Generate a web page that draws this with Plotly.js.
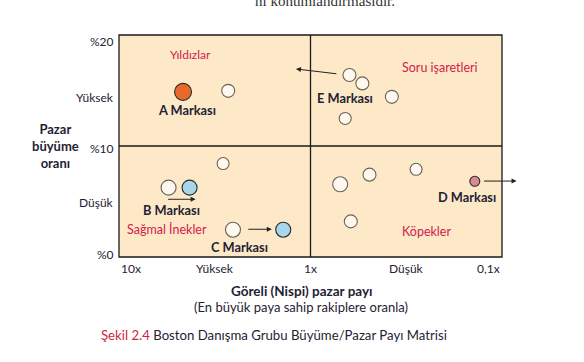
<!DOCTYPE html>
<html>
<head>
<meta charset="utf-8">
<script src="https://cdn.plot.ly/plotly-3.0.1.min.js"></script>
<style>html,body{margin:0;padding:0;background:#fff;}#chart{width:584px;height:362px;}</style>
</head>
<body>
<div id="chart"></div>
<script>
// Relative market share (x, log scale, 10x -> 0.1x) and market growth rate (y, %)
const whiteX = [2.69, 0.626, 0.536, 0.376, 0.659, 2.86, 5.51, 2.54, 0.70, 0.492, 0.281, 0.616];
const whiteY = [14.97, 16.39, 15.64, 14.43, 12.48, 8.42, 6.25, 2.46, 6.55, 7.42, 7.90, 3.21];
const whiteSize = [13, 13, 13, 13, 12, 12, 15, 15, 15, 13, 12, 13];
const brandAX = [4.63], brandAY = [14.88];
const blueX = [4.28, 1.388], blueY = [6.25, 2.46];
const brandDX = [0.1387], brandDY = [6.82];
const xTickVals = [10, 3.162, 1, 0.3162, 0.1];
const xTickText = ['10x', 'Yüksek', '1x', 'Düşük', '0,1x'];
const yTickVals = [20, 14.3, 10, 4.9, 0];
const yTickText = ['%20', 'Yüksek', '%10', 'Düşük', '%0'];

const FONT = 'Lato, "Open Sans", sans-serif';
const RED = '#d4204a';
const DARK = '#1f2233';
const EDGE = '#2a2a2a';

const traces = [
  {x: whiteX, y: whiteY, mode: 'markers', type: 'scatter', hoverinfo: 'skip',
   marker: {size: whiteSize, color: '#ffffff', line: {color: EDGE, width: 1.1}}},
  {x: brandAX, y: brandAY, mode: 'markers', type: 'scatter', hoverinfo: 'skip',
   marker: {size: 17, color: '#e8692a', line: {color: EDGE, width: 1.1}}},
  {x: blueX, y: blueY, mode: 'markers', type: 'scatter', hoverinfo: 'skip',
   marker: {size: 15, color: '#a9d6ea', line: {color: EDGE, width: 1.1}}},
  {x: brandDX, y: brandDY, mode: 'markers', type: 'scatter', hoverinfo: 'skip',
   marker: {size: 10, color: '#d98b93', line: {color: EDGE, width: 1.1}}}
];

const ann = [];
function label(text, x, y, color, bold, size) {
  ann.push({xref: 'paper', yref: 'paper', x: x, y: y, text: bold ? '<b>' + text + '</b>' : text,
    showarrow: false, xanchor: 'center', yanchor: 'middle',
    font: {family: FONT, size: size || 12, color: color}});
}
label('Yıldızlar', 0.187, 0.910, RED, false);
label('Soru işaretleri', 0.838, 0.853, RED, false, 12.5);
label('Sağmal İnekler', 0.126, 0.122, RED, false, 12.5);
label('Köpekler', 0.803, 0.117, RED, false, 12.5);
label('A Markası', 0.178, 0.662, DARK, true, 12.8);
label('E Markası', 0.590, 0.715, DARK, true, 12.8);
label('B Markası', 0.138, 0.212, DARK, true, 12.8);
label('C Markası', 0.314, 0.046, DARK, true, 12.8);
label('D Markası', 0.909, 0.272, DARK, true, 12.8);

function arrow(x, y, ax, ay) {
  ann.push({xref: 'paper', yref: 'paper', x: x, y: y, ax: ax, ay: ay, text: '',
    showarrow: true, arrowhead: 2, arrowsize: 1, arrowwidth: 1, arrowcolor: '#222'});
}
arrow(0.462, 0.847, 42, 5);
arrow(0.200, 0.260, -29, 0);
arrow(0.399, 0.125, -25, 0);
arrow(1.038, 0.342, -34, 0);

// x tick labels
xTickVals.forEach(function (v, i) {
  const lx = (1 - Math.log10(v)) / 2;
  ann.push({xref: 'paper', yref: 'paper', x: lx, y: 0, yshift: -2, text: xTickText[i], showarrow: false,
    xanchor: i === 0 ? 'left' : (i === xTickVals.length - 1 ? 'right' : 'center'), yanchor: 'top',
    font: {family: FONT, size: 12, color: DARK}});
});
// y tick labels
const yShifts = [-6, 1, -2, 0, 3];
yTickVals.forEach(function (v, i) {
  ann.push({xref: 'paper', yref: 'y', x: 0, xshift: -3, y: v, yshift: yShifts[i],
    text: yTickText[i], showarrow: false, xanchor: 'right', yanchor: 'middle',
    font: {family: FONT, size: 12, color: DARK}});
});

// axis titles
ann.push({xref: 'paper', yref: 'paper', x: -0.165, y: 0.5, text: '<b>Pazar<br>büyüme<br>oranı</b>',
  showarrow: false, xanchor: 'center', yanchor: 'middle', align: 'center',
  font: {family: FONT, size: 13, color: DARK}});
ann.push({xref: 'paper', yref: 'paper', x: 0.479, y: 0, yshift: -24, text: '<b>Göreli (Nispi) pazar payı</b>',
  showarrow: false, xanchor: 'center', yanchor: 'top', font: {family: FONT, size: 13.5, color: DARK}});
ann.push({xref: 'paper', yref: 'paper', x: 0.474, y: 0, yshift: -40, text: '(En büyük paya sahip rakiplere oranla)',
  showarrow: false, xanchor: 'center', yanchor: 'top', font: {family: FONT, size: 13, color: DARK}});
// caption
ann.push({xref: 'paper', yref: 'paper', x: -0.052, y: 0, yshift: -68, xanchor: 'left', yanchor: 'top',
  text: '<span style="color:#c8283c">Şekil 2.4</span> Boston Danışma Grubu Büyüme/Pazar Payı Matrisi',
  showarrow: false, font: {family: FONT, size: 13.2, color: DARK}});
// cut-off page text at top
ann.push({xref: 'paper', yref: 'paper', x: 0.351, y: 1.158, yshift: -11, xanchor: 'left', yanchor: 'bottom',
  text: 'ni konumlandırmasıdır.', showarrow: false,
  font: {family: '"Liberation Serif", "DejaVu Serif", serif', size: 15, color: '#333'}});

const shapes = [
  {type: 'rect', xref: 'paper', yref: 'paper', x0: 0, x1: 1, y0: 0, y1: 1, line: {color: '#1a1a1a', width: 1.3}, layer: 'below'},
  {type: 'line', xref: 'paper', yref: 'paper', x0: 0.5, x1: 0.5, y0: 0, y1: 1, line: {color: '#1a1a1a', width: 1.3}, layer: 'below'},
  {type: 'line', xref: 'paper', yref: 'paper', x0: 0, x1: 1, y0: 0.5, y1: 0.5, line: {color: '#1a1a1a', width: 1.3}, layer: 'below'}
];

const layout = {
  width: 584, height: 362,
  margin: {l: 119, r: 82, t: 35, b: 105},
  paper_bgcolor: '#ffffff', plot_bgcolor: '#fde9c8',
  showlegend: false,
  xaxis: {type: 'log', range: [1, -1], showgrid: false, zeroline: false, showticklabels: false, ticks: '', showline: false, fixedrange: true},
  yaxis: {range: [0, 20], showgrid: false, zeroline: false, showticklabels: false, ticks: '', showline: false, fixedrange: true},
  annotations: ann, shapes: shapes
};

Plotly.newPlot('chart', traces, layout, {displayModeBar: false, staticPlot: true});
</script>
</body>
</html>
